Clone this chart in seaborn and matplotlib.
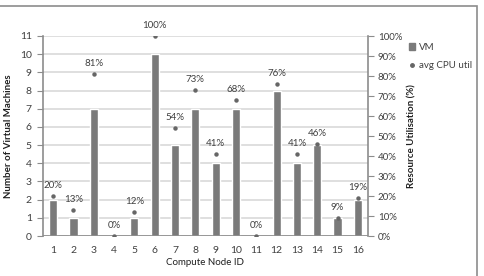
import pandas as pd
import numpy as np
import matplotlib
matplotlib.use("Agg")
import matplotlib.pyplot as plt
import seaborn as sns
from matplotlib.patches import Patch, Rectangle
from matplotlib.lines import Line2D

# data
nodes = [str(i) for i in range(1, 17)]
vm_count = [2, 1, 7, 0, 1, 10, 5, 7, 4, 7, 0, 8, 4, 5, 1, 2]
cpu_util = [20, 13, 81, 0, 12, 100, 54, 73, 41, 68, 0, 76, 41, 46, 9, 19]

df = pd.DataFrame({"node": nodes, "vm": vm_count, "cpu": np.array(cpu_util) / 100})

sns.set_style("white")
plt.rcParams["font.family"] = ["Lato", "DejaVu Sans"]

grid_col = "#d9d9d9"
axis_col = "#8c8c8c"
text_col = "#404040"
fs = 7

fig = plt.figure(figsize=(4.84, 2.76), dpi=100)
ax = fig.add_axes([43 / 484, 1 - 236 / 276, (368 - 43) / 484, 200 / 276])

sns.barplot(data=df, x="node", y="vm", color="#7a7a7a", saturation=1,
            width=0.4, ax=ax, zorder=2)
ax.set_ylim(0, 11)
ax.set_xlim(-0.5, 15.5)
ax.set_yticks(range(0, 12))
ax.yaxis.grid(True, color=grid_col, linewidth=1.2, zorder=0)
ax.set_axisbelow(True)
for side in ["top", "right", "bottom"]:
    ax.spines[side].set_visible(False)
ax.spines["left"].set_color(axis_col)
ax.spines["left"].set_linewidth(1.2)

# excel style ticks between categories
ax.set_xticks(np.arange(16))
ax.set_xticklabels(nodes)
ax.set_xticks(np.arange(-0.5, 16, 1), minor=True)
ax.tick_params(axis="x", which="major", length=0, labelsize=fs + 0.5, colors=text_col, pad=7.5)
ax.tick_params(axis="x", which="minor", length=4, color=axis_col, direction="out")
ax.tick_params(axis="y", length=4, color=axis_col, labelsize=fs + 0.5, labelcolor=text_col, pad=4)
ax.axhline(0, color=axis_col, linewidth=1.2, zorder=3)

ax.set_xlabel("Compute Node ID", fontsize=fs, color="#202020", labelpad=2)
ax.set_ylabel("Number of Virtual Machines", fontsize=fs, fontweight="bold",
              color="#202020", labelpad=5)

ax2 = ax.twinx()
sns.stripplot(data=df, x="node", y="cpu", jitter=False, color="#666666",
              size=3.2, ax=ax2, zorder=4)
ax2.set_xlim(-0.5, 15.5)
ax2.set_ylim(0, 1)
ax2.set_yticks(np.linspace(0, 1, 11))
ax2.set_yticklabels([f"{int(round(t * 100))}%" for t in np.linspace(0, 1, 11)])
for side in ["top", "left", "bottom"]:
    ax2.spines[side].set_visible(False)
ax2.spines["right"].set_color(axis_col)
ax2.spines["right"].set_linewidth(1.2)
ax2.tick_params(axis="y", length=4, color=axis_col, labelsize=fs, labelcolor=text_col, pad=3)
ax2.set_xlabel("")
ax2.set_ylabel("Resource Utilisation (%)", fontsize=fs, fontweight="bold",
               color="#202020", labelpad=4)

for i, v in enumerate(cpu_util):
    ax2.annotate(f"{v}%", (i, v / 100), xytext=(0, 4), textcoords="offset points",
                 ha="center", va="bottom", fontsize=fs, color=text_col,
                 annotation_clip=False)

handles = [Patch(color="#7a7a7a", label="VM"),
           Line2D([], [], marker="o", linestyle="none", color="#666666",
                  markersize=2.5, label="avg CPU util")]
fig.legend(handles=handles, loc="center left", bbox_to_anchor=(0.832, 0.795),
           frameon=False, fontsize=fs, handlelength=0.6, handletextpad=0.4,
           labelspacing=1.0, labelcolor=text_col, borderpad=0.2)

# chart border (only top and right show in the crop)
fig.patches.append(Rectangle((-0.1, -0.1), 0.1 + 477 / 484, 0.1 + 1 - 6 / 276,
                             transform=fig.transFigure, fill=False,
                             edgecolor="#8c8c8c", linewidth=1.2))

fig.savefig("out.png", dpi=100)
